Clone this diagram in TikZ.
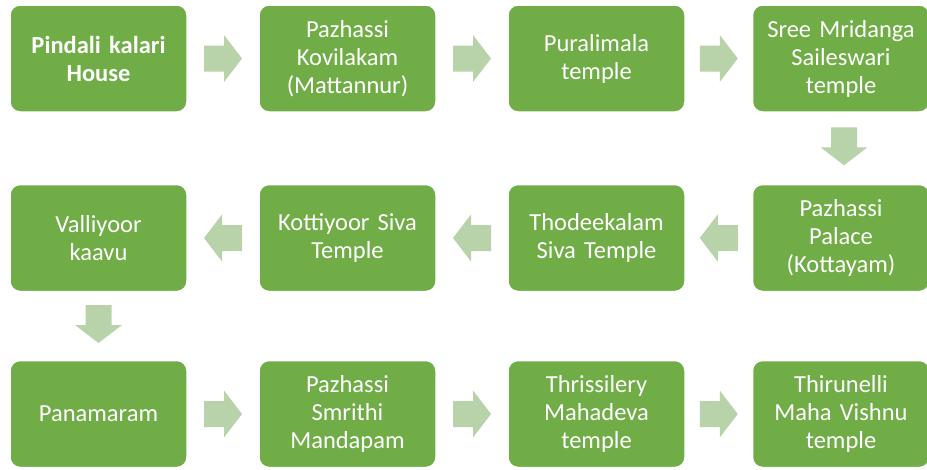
\documentclass[tikz,border=0pt]{standalone}
\usepackage{fontspec}
\setmainfont[WordSpace=0.8]{Carlito}
\usetikzlibrary{calc}
\definecolor{boxgreen}{RGB}{112,173,71}
\definecolor{arrowgreen}{RGB}{184,211,170}
\tikzset{
  stepbox/.style={draw=white, line width=1.5pt, fill=boxgreen, rounded corners=10pt,
    minimum width=177pt, minimum height=107pt, text width=172pt, align=center,
    text=white, font=\fontsize{24.5}{28}\selectfont, inner sep=0pt},
  blockarrow/.pic={\fill[arrowgreen] (-19,-13) -- (1,-13) -- (1,-23.5) -- (19,0)
      -- (1,23.5) -- (1,13) -- (-19,13) -- cycle;}
}
\begin{document}
\begin{tikzpicture}[x=1pt,y=-1pt]
\fill[white] (0,0) rectangle (927,469);
\useasboundingbox (0,0) rectangle (927,469);
% row 1
\node[stepbox] (a1) at (98.5,58.5) {\bfseries Pindali kalari\\House};
\node[stepbox] (a2) at (347.5,58.5) {Pazhassi\\Kovilakam\\(Mattannur)};
\node[stepbox] (a3) at (596.5,58.5) {Puralimala\\temple};
\node[stepbox] (a4) at (841,58.5) {Sree Mridanga\\Saileswari\\temple};
% row 2
\node[stepbox] (b4) at (841,238) {Pazhassi\\Palace\\(Kottayam)};
\node[stepbox] (b3) at (596.5,238) {Thodeekalam\\Siva Temple};
\node[stepbox] (b2) at (347.5,238) {Kottiyoor Siva\\Temple};
\node[stepbox] (b1) at (98.5,238) {Valliyoor\\kaavu};
% row 3
\node[stepbox] (c1) at (98.5,414) {Panamaram};
\node[stepbox] (c2) at (347.5,414) {Pazhassi\\Smrithi\\Mandapam};
\node[stepbox] (c3) at (596.5,414) {Thrissilery\\Mahadeva\\temple};
\node[stepbox] (c4) at (841,414) {Thirunelli\\Maha Vishnu\\temple};
% arrow positions
\coordinate (r1) at ($(a1.east)!0.5!(a2.west)$);
\coordinate (r2) at ($(a2.east)!0.5!(a3.west)$);
\coordinate (r3) at ($(a3.east)!0.5!(a4.west)$);
\coordinate (d1) at ($(a4.south)!0.5!(b4.north)+(3,-2)$);
\coordinate (l1) at ($(b4.west)!0.5!(b3.east)$);
\coordinate (l2) at ($(b3.west)!0.5!(b2.east)$);
\coordinate (l3) at ($(b2.west)!0.5!(b1.east)$);
\coordinate (d2) at ($(b1.south)!0.5!(c1.north)+(0,-2)$);
\coordinate (r4) at ($(c1.east)!0.5!(c2.west)$);
\coordinate (r5) at ($(c2.east)!0.5!(c3.west)$);
\coordinate (r6) at ($(c3.east)!0.5!(c4.west)$);
% arrows
\pic at (r1) {blockarrow};
\pic at (r2) {blockarrow};
\pic at (r3) {blockarrow};
\pic[rotate=-90] at (d1) {blockarrow};
\pic[rotate=180] at (l1) {blockarrow};
\pic[rotate=180] at (l2) {blockarrow};
\pic[rotate=180] at (l3) {blockarrow};
\pic[rotate=-90] at (d2) {blockarrow};
\pic at (r4) {blockarrow};
\pic at (r5) {blockarrow};
\pic at (r6) {blockarrow};
\end{tikzpicture}
\end{document}
